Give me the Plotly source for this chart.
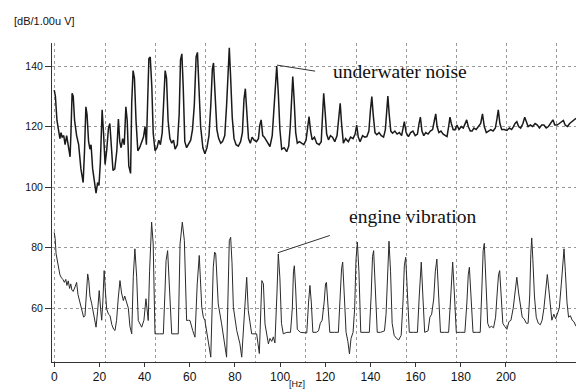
import plotly.graph_objects as go

# ---- data ----
noise_hz = [0, 0.5, 1.2, 2, 2.5, 3, 3.5, 4.2, 4.8, 5.5, 6, 6.5, 7, 7.4, 7.9, 8.4, 9, 9.9, 10.8, 11.8,
            12.8, 13.4, 14, 14.5, 15.2, 15.8, 16.3, 17, 17.8, 18.5, 19.2, 19.8, 20.4, 21.2, 21.8, 22.5,
            23.2, 24, 24.6, 25.3, 26, 26.8, 27.7, 28.4, 29, 29.6, 30.3, 31, 31.7, 32.3, 33, 33.8, 34.3,
            34.9, 35.5, 36.2, 37, 37.8, 38.8, 39.5, 40.2, 40.8, 41.3, 41.9, 42.5, 43.2, 43.8, 44.6, 45.5,
            46.3, 47, 47.8, 48.5, 49.1, 49.7, 50.4, 51.2, 52, 52.8, 53.5, 54.5, 55.3, 55.9, 56.5, 57.1,
            57.8, 58.6, 59.5, 60.4, 61.2, 62, 62.8, 63.4, 64, 64.8, 65.8, 66.7, 67.6, 68.5, 69.3, 70,
            70.5, 71.2, 72, 72.8, 73.7, 74.5, 75.5, 76.3, 77, 77.5, 78.1, 78.8, 79.6, 80.5, 81.5, 82.5,
            83.3, 84, 84.6, 85.2, 86, 86.8, 87.6, 88.5, 89.5, 90.4, 91, 91.6, 92.3, 93, 93.8, 94.7, 95.5,
            96.5, 97.3, 98, 98.5, 99.2, 99.9, 100.7, 101.8, 102.9, 103.8, 104.5, 105.1, 105.6, 106.2,
            106.9, 107.6, 108.5, 109.5, 110.5, 111.5, 112.2, 112.8, 113.5, 114.2, 115.2, 116.2, 117.3,
            118.2, 118.8, 119.3, 119.9, 120.6, 121.4, 122.3, 123.2, 124.2, 125.2, 126, 126.6, 127.2, 128,
            129, 130.2, 131.2, 132.3, 133.2, 133.9, 134.6, 135.4, 136.5, 137.5, 138.4, 139.3, 140, 140.6,
            141.2, 142, 142.8, 143.8, 144.8, 145.8, 146.6, 147.2, 147.7, 148.3, 149, 149.8, 150.8, 151.8,
            152.8, 153.8, 154.5, 155, 155.8, 156.8, 157.8, 158.8, 159.8, 160.8, 161.5, 162.1, 162.8,
            163.6, 164.5, 165.5, 166.5, 167.5, 168.3, 168.9, 169.5, 170.3, 171.2, 172.2, 173.2, 173.9,
            174.6, 175.2, 175.8, 176.6, 177.4, 178.3, 179.2, 180.2, 181.1, 182, 182.6, 183.3, 184.2, 185,
            185.8, 186.8, 187.8, 188.8, 189.6, 190.4, 191.3, 192.3, 193.3, 194.3, 195.3, 196, 196.6,
            197.3, 198.1, 199.2, 200.4, 201.5, 202.5, 203.3, 204, 204.8, 205.6, 206.5, 207.5, 208.3, 209,
            209.8, 210.8, 211.8, 212.9, 213.9, 214.8, 215.8, 216.8, 217.8, 218.8, 219.8, 220.8, 221.6,
            222.6, 223.6, 224.6, 225.4, 226.2, 227.2, 228.2, 229.2, 230.2, 231]
noise_db = [132, 130, 122, 118, 116, 118, 116.5, 117, 114, 117, 115, 113, 110, 118, 131, 130, 122, 117, 114, 106,
            101.5, 112, 126.5, 124, 115, 112.5, 114, 106, 101, 98, 101.5, 100.5, 108, 125.5, 118, 107.5,
            112, 119.5, 121, 112, 105.5, 106, 112, 122.5, 115, 113, 116, 114, 126.5, 122, 107, 104.5, 128,
            138.5, 136, 122, 112, 113, 115, 116.5, 120, 114, 127, 142.5, 143, 133, 118, 112, 113,
            115.5, 114, 118, 129, 138.5, 136, 122, 116, 114.5, 115.5, 112.5, 114, 124, 142, 144, 133,
            115, 113, 114.5, 115.5, 119, 127, 143, 144.5, 134, 120, 113, 111, 113, 117, 127, 139,
            141, 131, 119, 116, 114.5, 115, 117, 127, 142, 146, 136, 123, 116, 114, 113.5, 115,
            118, 129, 132.5, 125, 116, 114.5, 116.5, 115.5, 115, 116, 120.5, 122.2, 117, 116.5, 115.5, 114, 113.4,
            117, 126, 137.5, 140, 131, 119, 112.5, 113, 111.7, 113.5, 120, 131, 136.5, 129,
            118, 114.5, 115, 114.5, 114, 115.5, 119, 123.3, 118.5, 115.6, 116.5, 114.5, 114,
            115, 124, 131, 125, 117.5, 115.6, 117, 116.5, 115, 117, 124, 127.7, 121, 114.5,
            116, 115, 116.5, 116, 117.5, 120.5, 116.5, 115, 117, 116.5, 116.7, 118.5, 125.5, 129.9,
            124, 118, 117.3, 118, 117, 116.5, 119, 126.5, 130.1, 124, 118.5, 117.8, 118.5, 117.5,
            118, 117, 120, 121.6, 118, 116.7, 118, 118.5, 117, 117.5, 121, 123.1, 118.5,
            117, 118, 117.5, 118.5, 119, 122, 124.2, 120, 118, 118.5, 117.5, 117, 116.7,
            120, 123.1, 121, 119, 118.9, 120.5, 119, 120, 119.5, 121, 122.2, 120, 118.5, 118.5,
            119.5, 119, 120, 121, 124.2, 120, 118, 118.5, 119, 118.5, 119.5, 122.5, 125.5,
            121, 119, 119, 118.7, 119.5, 119, 120, 121, 121.6, 120, 119.5, 121, 123.1, 121.5,
            120, 120.5, 120, 121, 120.5, 119.5, 120.5, 120.5, 119.5, 120, 121, 122.2, 120.5,
            120.5, 121, 121.5, 122, 120.5, 120, 121, 121.5, 122, 122.7]

engine_hz = [0, 0.4, 0.8, 1.3, 1.8, 2.5, 3.2, 3.8, 4.5, 5.1, 5.6, 6.2, 6.8, 7.3, 7.8, 8.4, 9.2, 9.9, 10.5,
             11.4, 12.3, 13, 13.6, 14.2, 14.8, 15.3, 15.8, 16.6, 17.5, 18.5, 19.2, 19.9, 20.5, 21, 21.5,
             22.1, 22.6, 23.2, 24, 24.7, 25.5, 26.3, 26.9, 27.6, 28.3, 29.1, 29.8, 30.6, 31.2, 32.1, 32.8,
             33.5, 34.3, 35, 35.7, 36.5, 37.2, 38.7, 39.7, 40.6, 41.1, 41.6, 42.2, 42.7, 43.1, 43.8, 44.6,
             46.5, 48.3, 49, 49.5, 50.2, 50.7, 51.2, 52, 53.5, 54.9, 55.7, 56.2, 56.7, 57.6, 58.6, 59.4,
             60.1, 61.3, 62.3, 63.3, 64.2, 65.3, 66, 66.7, 67.5, 68.2, 69.3, 70.4, 71, 71.5, 72.6, 74.1,
             75.6, 76.3, 77.5, 78.1, 78.7, 79.3, 80.8, 82.2, 83, 84, 84.7, 85.2, 85.9, 87.4, 89.6, 90.8,
             91.9, 92.6, 93.3, 94.8, 95.5, 96.3, 97, 97.7, 98.6, 99.2, 99.9, 100.6, 101.4, 103, 104.6,
             105.4, 105.9, 106.3, 106.9, 107.6, 109, 110.5, 111.8, 112.6, 113.2, 113.8, 114.5, 116, 117,
             117.8, 118.6, 119.5, 120.1, 120.5, 121.2, 122, 124, 125.8, 126.6, 127.2, 127.7, 128.4, 129.2,
             130, 130.7, 131.4, 132.3, 133, 133.6, 134.2, 134.9, 135.7, 137.5, 139.5, 140.3, 140.9, 141.4,
             142.2, 143, 144.5, 146.2, 146.9, 147.6, 148.2, 148.9, 149.6, 150.5, 151.5, 152.5, 153.6,
             154.4, 155, 155.6, 156.4, 157.2, 159, 160.8, 161.6, 162.1, 162.5, 163.2, 164, 165.5, 166.3,
             167.1, 168, 168.7, 169.4, 170.2, 171, 172.8, 174.6, 175.4, 176, 176.4, 177.2, 178, 180,
             181.8, 182.7, 183.3, 183.8, 184.6, 185.4, 187, 188.6, 189.3, 189.9, 190.4, 191.1, 191.9,
             192.7, 193.5, 194.5, 195.4, 196.2, 196.7, 197.2, 197.9, 198.6, 199.4, 200.4, 201.3, 202.2,
             203.2, 204.2, 204.8, 205.6, 206.4, 207.2, 208, 209, 209.8, 210.5, 211, 211.4, 211.9, 212.6,
             213.4, 214.3, 215.2, 216, 216.8, 217.6, 218.3, 219, 219.6, 220.3, 221.2, 222, 222.7, 223.6,
             224.5, 225.2, 225.7, 226.3, 227, 227.7, 228.5, 229.3, 230.1, 231]
engine_db = [85, 83, 78, 76, 74, 71, 70, 69.5, 68.5, 69.5, 67.5, 69, 66.5, 68, 66, 65.5, 67, 68.5, 64.5,
             61.4, 59, 57, 57.5, 65, 71.3, 69, 64, 61.4, 57, 53.7, 59, 65.8, 60, 56, 62,
             72.4, 66, 59.7, 58, 57.5, 54.5, 53, 52.6, 56, 63, 69.1, 65, 62.5, 64, 61.4, 60,
             54, 51.5, 70.5, 79.6, 70.2, 55.9, 53.7, 56, 63.1, 60, 55.9, 72, 85.6, 88.4, 81.2, 51.5,
             51.5, 51.5, 65, 75.7, 79, 72, 64.7, 51.5, 51.5, 51.5, 81.2, 86, 88.4, 82.3, 55.9, 56,
             55.9, 52.6, 50.4, 68, 77.4, 60.3, 57, 55.9, 52, 48.2, 43.8, 73.5, 78.5, 77.9, 61.4, 54.8,
             48.2, 43.8, 82.3, 83.4, 75, 60.3, 52.6, 48.2, 43.8, 57, 66, 70.2, 59.2, 51.5, 51.5, 45,
             69.1, 68, 54.8, 48.2, 50, 49, 50.5, 48.5, 65, 77.9, 70, 55, 51.5, 52, 52,
             60, 72, 74, 66, 53, 52, 52, 51.8, 62, 67.5, 62, 52, 52, 52.5,
             55, 56, 62, 68, 68.5, 60, 52, 52, 52, 64, 73, 75.2, 66, 52,
             49, 44.9, 50, 52, 60, 76, 81.8, 72, 52, 52, 52, 64, 77, 79,
             66, 52, 52, 52.5, 58, 75, 82.1, 72, 55, 51, 50, 49.5, 51,
             62, 74, 76.8, 66, 52, 52, 52, 64, 73, 75.2, 64, 52, 52.5, 57,
             58, 63, 72, 76.2, 64, 52, 52, 52, 62, 73, 75.2, 64, 52, 52,
             52, 62, 71, 73.5, 63, 52, 52, 52, 66, 79, 81.4, 68, 55,
             53.5, 54, 53.5, 57, 66, 71, 72.4, 63, 55, 54, 53, 55.5, 56,
             60, 67, 70.2, 65, 60, 57, 56.5, 55, 55, 64, 78, 83.2, 76, 64,
             57, 55, 54.5, 56, 60, 66, 71.1, 66, 60, 56, 58, 56.5, 58, 60,
             68, 77, 79.6, 72, 62, 57, 57.5, 56, 55.5, 54]

x_tick_vals = [0, 20, 40, 60, 80, 100, 120, 140, 160, 180, 200]
y_tick_vals = [60, 80, 100, 120, 140]
label_noise = "underwater noise"
label_engine = "engine vibration"

fig = go.Figure()
fig.add_trace(go.Scatter(x=noise_hz, y=noise_db, mode="lines",
                         line=dict(color="#1a1a1a", width=1.5), showlegend=False))
fig.add_trace(go.Scatter(x=engine_hz, y=engine_db, mode="lines",
                         line=dict(color="#2a2a2a", width=1.0), showlegend=False))

serif = "Liberation Serif, Times New Roman, serif"
sans = "Liberation Sans, Arial, sans-serif"

# text labels with leader lines
fig.add_annotation(x=153, y=138.3, xref="x", yref="y", text=label_noise, showarrow=False,
                   font=dict(family=serif, size=19.5, color="#111"),
                   xanchor="center", yanchor="middle")
fig.add_annotation(x=159, y=90.2, xref="x", yref="y", text=label_engine, showarrow=False,
                   font=dict(family=serif, size=19.5, color="#111"),
                   xanchor="center", yanchor="middle")
fig.add_shape(type="line", xref="x", yref="y", x0=98.6, y0=140.3, x1=115.5, y1=138.3,
              line=dict(color="#333", width=1))
fig.add_shape(type="line", xref="x", yref="y", x0=99, y0=78.3, x1=122, y1=84,
              line=dict(color="#333", width=1))

fig.add_annotation(x=-0.076, y=1.069, xref="paper", yref="paper", text="[dB/1.00u V]",
                   showarrow=False, xanchor="left", yanchor="middle",
                   font=dict(family=sans, size=11, color="#111"))
fig.add_annotation(x=0.467, y=-0.07, xref="paper", yref="paper", text="[Hz]",
                   showarrow=False, xanchor="center", yanchor="middle",
                   font=dict(family=sans, size=9, color="#111"))

fig.update_layout(
    width=576, height=391,
    margin=dict(l=52, r=0, t=43, b=29),
    paper_bgcolor="white", plot_bgcolor="white",
    font=dict(family=sans, color="#111"),
    xaxis=dict(range=[-1, 231], tickmode="array", tickvals=x_tick_vals,
               ticks="outside", ticklen=4, tickcolor="#333", showgrid=False,
               showline=True, linecolor="#333", linewidth=1, zeroline=False,
               tickfont=dict(size=12),
               minor=dict(tick0=0.3, dtick=200 / 9, showgrid=True, gridcolor="#999",
                          griddash="dot", gridwidth=1, ticklen=0)),
    yaxis=dict(range=[42.2, 147.6], tickmode="array", tickvals=y_tick_vals,
               ticks="outside", ticklen=6, tickcolor="#333", showgrid=True,
               gridcolor="#999", griddash="dot", gridwidth=1,
               showline=True, linecolor="#333", linewidth=1, zeroline=False,
               tickfont=dict(size=10.5)),
)

fig.write_html("out.html", config={"displayModeBar": False},
               post_script="document.body.style.margin='0';document.body.style.padding='0';")
